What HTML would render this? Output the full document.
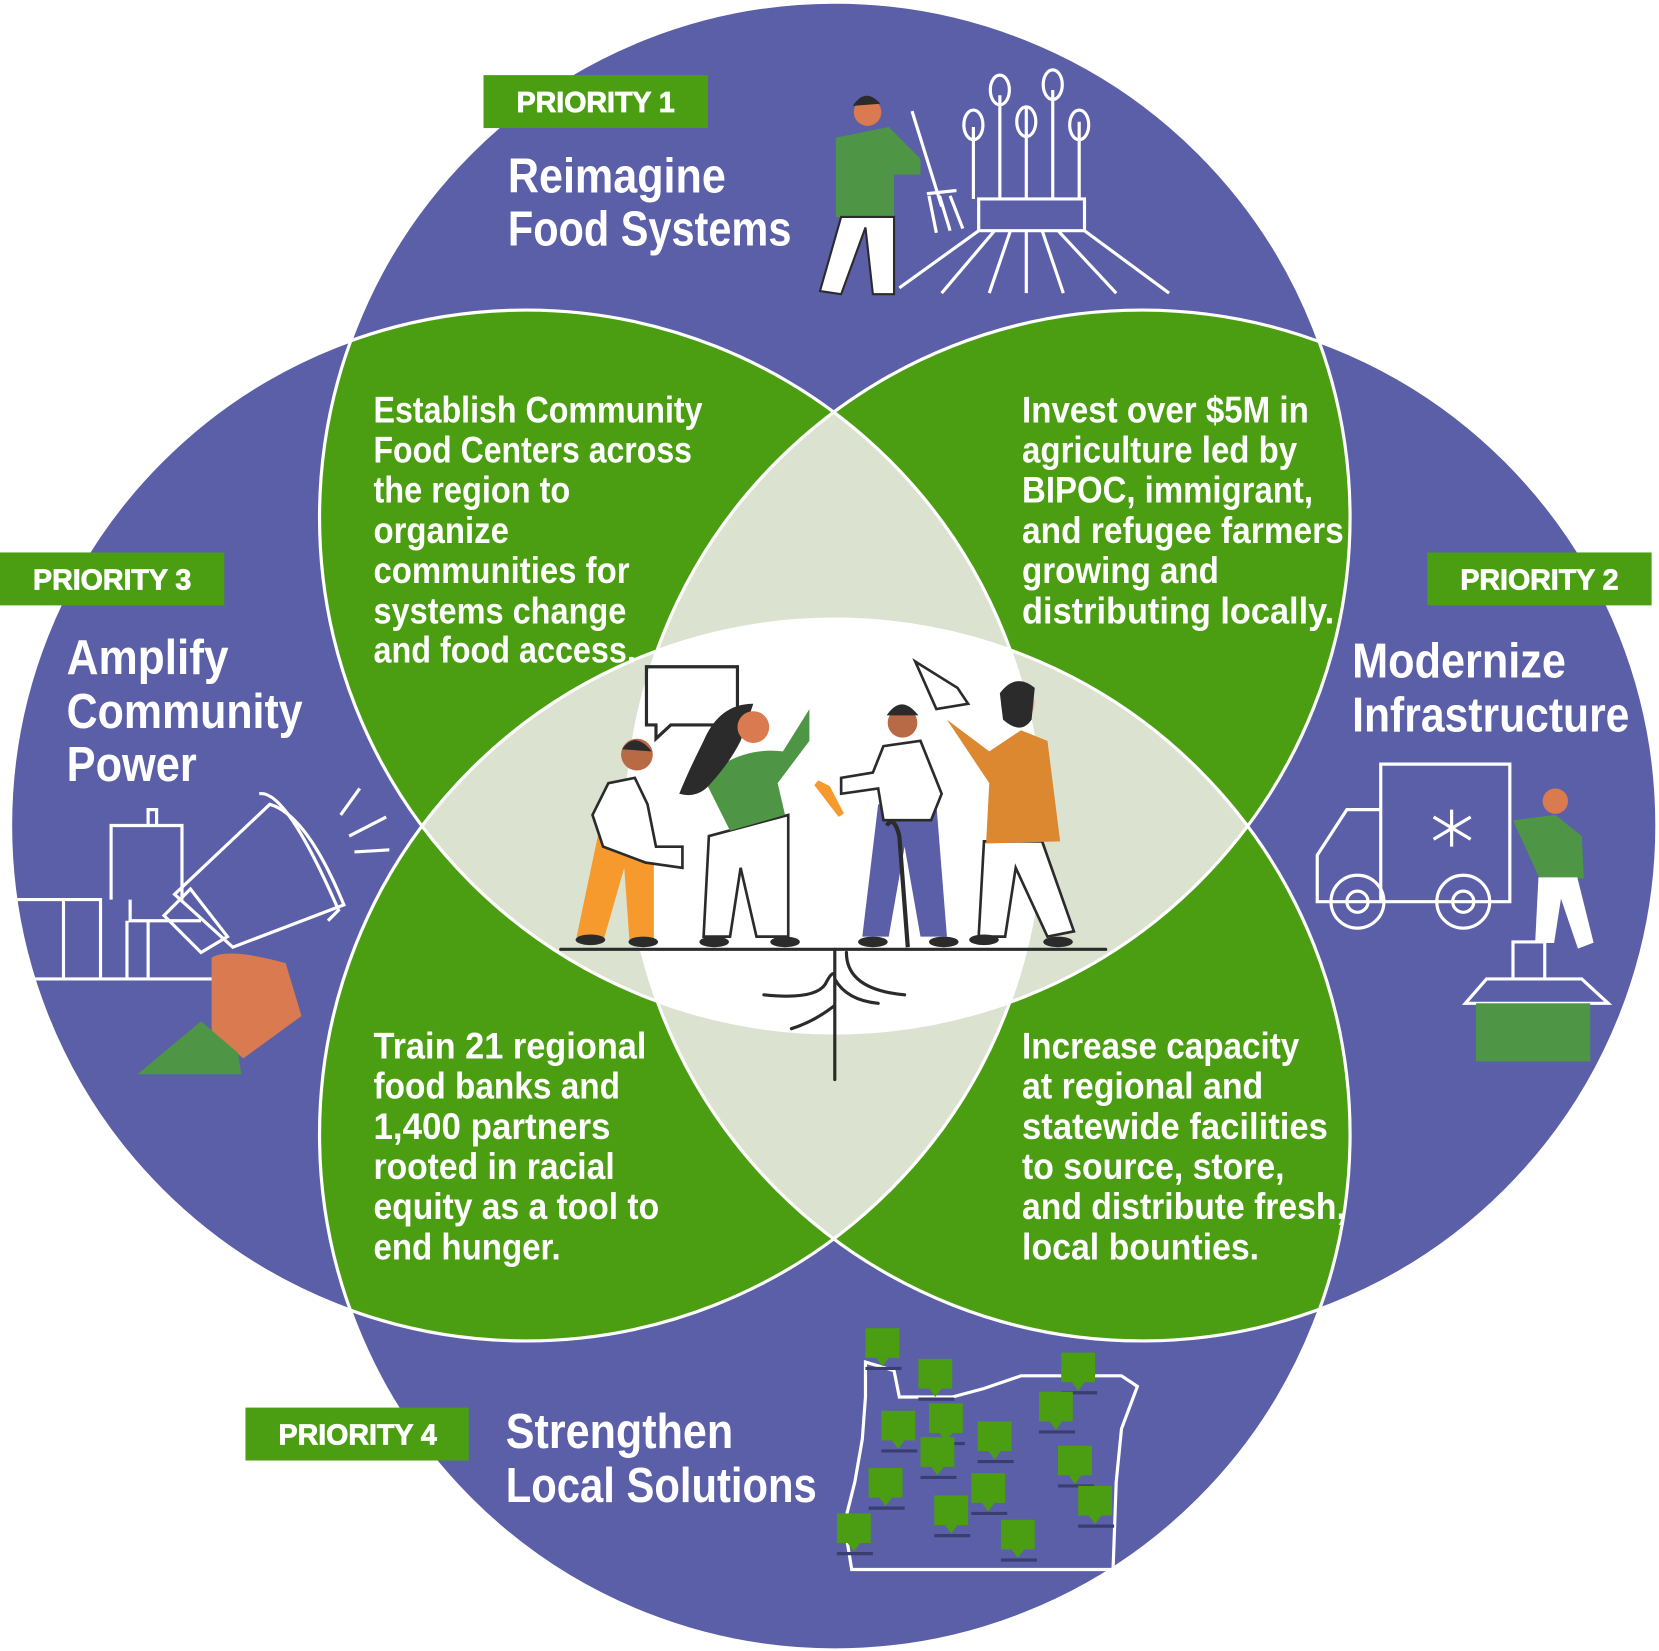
<!DOCTYPE html>
<html><head><meta charset="utf-8"><style>
html,body{margin:0;padding:0;background:#fff;}
svg{display:block;}
text{font-family:"Liberation Sans Narrow","Liberation Sans",sans-serif;font-weight:bold;fill:#fff;}
</style></head><body>
<svg width="1659" height="1651" viewBox="0 0 1568 1560" preserveAspectRatio="none" xmlns="http://www.w3.org/2000/svg">
<defs>
<clipPath id="cT"><circle cx="789" cy="489" r="487"/></clipPath>
<clipPath id="cB"><circle cx="789" cy="1072" r="487"/></clipPath>
<clipPath id="cL"><circle cx="497" cy="780" r="487"/></clipPath>
<clipPath id="cR"><circle cx="1079" cy="780" r="487"/></clipPath>
<g id="pin"><rect x="0" y="0" width="32" height="28" fill="#4b9e12"/><path d="M10 28 L16 36 L22 28 Z" fill="#4b9e12"/><line x1="0" y1="38" x2="34" y2="38" stroke="#3a3d70" stroke-width="3"/></g>
</defs>
<rect width="1568" height="1560" fill="#fff"/>
<g fill="#5a5fa8">
<circle cx="789" cy="489" r="487"/><circle cx="789" cy="1072" r="487"/>
<circle cx="497" cy="780" r="487"/><circle cx="1079" cy="780" r="487"/>
</g>
<g fill="#4b9e12">
<g clip-path="url(#cT)"><circle cx="497" cy="780" r="487"/><circle cx="1079" cy="780" r="487"/></g>
<g clip-path="url(#cB)"><circle cx="497" cy="780" r="487"/><circle cx="1079" cy="780" r="487"/></g>
</g>
<g fill="#dbe3d0">
<g clip-path="url(#cT)"><circle cx="789" cy="1072" r="487"/></g>
<g clip-path="url(#cL)"><circle cx="1079" cy="780" r="487"/></g>
</g>
<g clip-path="url(#cT)"><g clip-path="url(#cB)"><g clip-path="url(#cL)"><rect x="0" y="0" width="1568" height="1560" fill="#fff" clip-path="url(#cR)"/></g></g></g>
<g fill="none" stroke="#fff" stroke-width="3">
<circle cx="789" cy="489" r="487"/><circle cx="789" cy="1072" r="487"/>
<circle cx="497" cy="780" r="487"/><circle cx="1079" cy="780" r="487"/>
</g>

<g fill="#4b9e12">
<rect x="457" y="71" width="212" height="50"/>
<rect x="0" y="522" width="212" height="50"/>
<rect x="1349" y="522" width="212" height="50"/>
<rect x="232" y="1330" width="211" height="50"/>
</g>
<g font-size="27" text-anchor="middle" style="font-family:'Liberation Sans',sans-serif" stroke="#fff" stroke-width="0.8">
<text x="563" y="106">PRIORITY 1</text>
<text x="106" y="557">PRIORITY 3</text>
<text x="1455" y="557">PRIORITY 2</text>
<text x="338" y="1365">PRIORITY 4</text>
</g>

<g font-size="46">
<text x="480" y="182" textLength="206" lengthAdjust="spacingAndGlyphs">Reimagine</text>
<text x="480" y="232" textLength="268" lengthAdjust="spacingAndGlyphs">Food Systems</text>
<text x="63" y="637" textLength="153" lengthAdjust="spacingAndGlyphs">Amplify</text>
<text x="63" y="688" textLength="223" lengthAdjust="spacingAndGlyphs">Community</text>
<text x="63" y="738" textLength="123" lengthAdjust="spacingAndGlyphs">Power</text>
<text x="1278" y="640" textLength="202" lengthAdjust="spacingAndGlyphs">Modernize</text>
<text x="1278" y="691" textLength="262" lengthAdjust="spacingAndGlyphs">Infrastructure</text>
<text x="478" y="1368" textLength="215" lengthAdjust="spacingAndGlyphs">Strengthen</text>
<text x="478" y="1419" textLength="294" lengthAdjust="spacingAndGlyphs">Local Solutions</text>
</g>

<g font-size="35">
<text x="353" y="399" textLength="311" lengthAdjust="spacingAndGlyphs">Establish Community</text>
<text x="353" y="437" textLength="301" lengthAdjust="spacingAndGlyphs">Food Centers across</text>
<text x="353" y="475" textLength="186" lengthAdjust="spacingAndGlyphs">the region to</text>
<text x="353" y="513" textLength="128" lengthAdjust="spacingAndGlyphs">organize</text>
<text x="353" y="551" textLength="242" lengthAdjust="spacingAndGlyphs">communities for</text>
<text x="353" y="589" textLength="239" lengthAdjust="spacingAndGlyphs">systems change</text>
<text x="353" y="626" textLength="248" lengthAdjust="spacingAndGlyphs">and food access.</text>

<text x="966" y="399" textLength="271" lengthAdjust="spacingAndGlyphs">Invest over $5M in</text>
<text x="966" y="437" textLength="260" lengthAdjust="spacingAndGlyphs">agriculture led by</text>
<text x="966" y="475" textLength="275" lengthAdjust="spacingAndGlyphs">BIPOC, immigrant,</text>
<text x="966" y="513" textLength="304" lengthAdjust="spacingAndGlyphs">and refugee farmers</text>
<text x="966" y="551" textLength="186" lengthAdjust="spacingAndGlyphs">growing and</text>
<text x="966" y="589" textLength="295" lengthAdjust="spacingAndGlyphs">distributing locally.</text>

<text x="353" y="1000" textLength="258" lengthAdjust="spacingAndGlyphs">Train 21 regional</text>
<text x="353" y="1038" textLength="233" lengthAdjust="spacingAndGlyphs">food banks and</text>
<text x="353" y="1076" textLength="224" lengthAdjust="spacingAndGlyphs">1,400 partners</text>
<text x="353" y="1114" textLength="228" lengthAdjust="spacingAndGlyphs">rooted in racial</text>
<text x="353" y="1152" textLength="270" lengthAdjust="spacingAndGlyphs">equity as a tool to</text>
<text x="353" y="1190" textLength="177" lengthAdjust="spacingAndGlyphs">end hunger.</text>

<text x="966" y="1000" textLength="262" lengthAdjust="spacingAndGlyphs">Increase capacity</text>
<text x="966" y="1038" textLength="228" lengthAdjust="spacingAndGlyphs">at regional and</text>
<text x="966" y="1076" textLength="289" lengthAdjust="spacingAndGlyphs">statewide facilities</text>
<text x="966" y="1114" textLength="248" lengthAdjust="spacingAndGlyphs">to source, store,</text>
<text x="966" y="1152" textLength="306" lengthAdjust="spacingAndGlyphs">and distribute fresh,</text>
<text x="966" y="1190" textLength="224" lengthAdjust="spacingAndGlyphs">local bounties.</text>
</g>

<g stroke="#2b2b2b" stroke-width="3" fill="none" stroke-linecap="round">
<line x1="530" y1="897" x2="1045" y2="897"/>
<path d="M789 897 V1020 M789 930 Q790 910 780 930 Q770 945 722 940 M800 900 Q800 935 855 940 M789 950 Q770 965 748 972 M789 925 Q800 945 830 948"/>
<path d="M697 695 V630 H611 V685 H620 V698 L634 685 H680"/>
</g>
<path d="M565 790 L545 885 L570 890 L590 820 L595 890 L618 890 L618 790 Z" fill="#f79a2e"/>
<path d="M575 740 L600 735 L612 760 L620 800 H645 L645 820 L610 815 L570 800 L560 770 Z" fill="#fff" stroke="#2b2b2b" stroke-width="2.5"/>
<circle cx="602" cy="713" r="15" fill="#b86a45"/>
<path d="M588 708 Q600 690 616 710 Z" fill="#2b2b2b"/>
<path d="M670 790 L665 885 L690 885 L700 820 L715 885 L745 885 L745 770 Z" fill="#fff" stroke="#2b2b2b" stroke-width="2.5"/>
<path d="M665 735 Q700 705 740 710 L765 670 L765 700 L735 740 L742 770 L690 785 Z" fill="#4e9645"/>
<path d="M712 665 Q680 665 665 700 Q650 730 642 750 Q660 755 672 740 Q690 720 700 700 Z" fill="#2b2b2b"/>
<circle cx="712" cy="687" r="15" fill="#d97a50"/>
<path d="M830 760 L815 885 L840 885 L855 800 L870 885 L895 885 L885 760 Z" fill="#5a5fa8"/>
<path d="M835 705 L870 700 L890 750 L880 775 L835 775 L830 745 L795 750 L795 735 L825 730 Z" fill="#fff" stroke="#2b2b2b" stroke-width="2.5"/>
<circle cx="853" cy="683" r="14" fill="#b86a45"/>
<path d="M838 676 Q852 655 868 676 Z" fill="#2b2b2b"/>
<path d="M772 740 L795 770 L782 745 Z" fill="#f79a2e" stroke="#f79a2e" stroke-width="6"/>
<path d="M838 780 Q845 770 850 790 L858 895" stroke="#2b2b2b" stroke-width="4" fill="none"/>
<path d="M930 795 L925 885 L950 885 L960 820 L990 885 L1015 880 L985 795 Z" fill="#fff" stroke="#2b2b2b" stroke-width="2.5"/>
<path d="M895 680 L935 710 L965 690 L990 700 L1002 795 L932 797 L935 740 Z" fill="#dc8830"/>
<circle cx="962" cy="665" r="16" fill="#f6b38f"/>
<path d="M948 680 Q965 695 975 680 L978 650 Q960 635 945 655 Z" fill="#2b2b2b"/>
<path d="M865 625 L905 650 L915 665 L885 670 Z" fill="#fff" stroke="#2b2b2b" stroke-width="2.5"/>
<g fill="#2b2b2b"><ellipse cx="558" cy="888" rx="14" ry="5"/><ellipse cx="608" cy="890" rx="14" ry="5"/><ellipse cx="675" cy="890" rx="14" ry="5"/><ellipse cx="742" cy="890" rx="14" ry="5"/><ellipse cx="825" cy="890" rx="14" ry="5"/><ellipse cx="892" cy="890" rx="14" ry="5"/><ellipse cx="930" cy="888" rx="14" ry="5"/><ellipse cx="1000" cy="890" rx="14" ry="5"/></g>

<g>
<path d="M790 130 L840 120 L870 150 L870 165 L845 165 L845 205 L790 205 Z" fill="#4e9645"/>
<circle cx="820" cy="106" r="13" fill="#d97a50"/>
<path d="M806 100 Q818 82 832 98 Z" fill="#2b2b2b"/>
<path d="M795 205 L775 275 L795 278 L818 215 L825 278 L845 278 L845 205 Z" fill="#fff" stroke="#2b2b2b" stroke-width="2"/>
<g stroke="#fff" stroke-width="3" fill="none">
<path d="M862 105 L890 195 M878 185 L885 220 M888 185 L898 218 M898 185 L910 216 M876 183 L904 180"/>
<path d="M850 272 L925 218 H1025 L1105 277 M970 218 V277 M940 218 L890 277 M955 218 L935 277 M985 218 L1005 277 M1000 218 L1055 277 M925 218 V188 H1025 V218"/>
<path d="M945 188 V90 M970 188 V100 M995 188 V85 M920 188 V120 M1020 188 V115"/>
<ellipse cx="945" cy="85" rx="9" ry="14"/><ellipse cx="995" cy="80" rx="9" ry="14"/>
<ellipse cx="970" cy="115" rx="9" ry="14"/><ellipse cx="920" cy="118" rx="9" ry="14"/><ellipse cx="1020" cy="118" rx="9" ry="14"/>
</g>
</g>

<g stroke="#fff" stroke-width="3" fill="none">
<path d="M15 850 H95 V925 H15 M60 850 V925 M95 925 H210 M105 850 V780 H172 V850 M120 870 V925 M140 870 V925 M123 850 V870 H190"/>
<path d="M140 780 V765 H148 V780"/>
<path d="M165 845 L255 760 Q290 770 325 855 L220 895 Z"/>
<path d="M245 750 Q270 745 320 860 L310 870"/>
<path d="M155 865 L190 900 L215 885 L180 840 Z"/>
<path d="M322 770 L340 745 M330 790 L365 772 M335 805 L368 803"/>
</g>
<path d="M200 905 Q215 895 270 910 L285 960 L230 1000 L200 975 Z" fill="#d97a50"/>
<path d="M130 1015 L190 965 L225 995 L228 1015 Z" fill="#4e9645"/>

<g stroke="#fff" stroke-width="3" fill="none">
<path d="M1305 722 H1427 V852 H1245 V808 L1273 765 H1305 Z M1305 765 V852"/>
<circle cx="1283" cy="852" r="25"/><circle cx="1283" cy="852" r="10"/>
<circle cx="1383" cy="852" r="25"/><circle cx="1383" cy="852" r="10"/>
<path d="M1372 765 V800 M1355 772 L1390 793 M1390 772 L1355 793"/>
<path d="M1385 948 L1405 925 H1495 L1520 948 Z M1430 890 V925 H1460 V890 Z"/>
</g>
<path d="M1430 775 L1470 770 L1495 790 L1497 830 L1455 830 Z" fill="#4e9645"/>
<circle cx="1470" cy="757" r="12" fill="#d97a50"/>
<path d="M1455 830 L1452 890 L1468 890 L1475 845 L1492 895 L1505 890 L1490 830 Z" fill="#fff" stroke="#fff" stroke-width="2"/>
<rect x="1395" y="948" width="108" height="55" fill="#4e9645"/>

<path d="M818 1287 L845 1295 L850 1320 L900 1320 L930 1312 L965 1300 L1060 1300 L1075 1310 L1060 1350 L1055 1400 L1052 1483 H805 L798 1440 L808 1400 L815 1360 L818 1320 Z" fill="none" stroke="#fff" stroke-width="3"/>
<use href="#pin" x="818" y="1255"/><use href="#pin" x="868" y="1284"/>
<use href="#pin" x="1003" y="1278"/><use href="#pin" x="833" y="1333"/>
<use href="#pin" x="878" y="1326"/><use href="#pin" x="982" y="1315"/>
<use href="#pin" x="924" y="1343"/><use href="#pin" x="870" y="1358"/>
<use href="#pin" x="1000" y="1366"/><use href="#pin" x="821" y="1387"/>
<use href="#pin" x="918" y="1392"/><use href="#pin" x="1019" y="1404"/>
<use href="#pin" x="883" y="1413"/><use href="#pin" x="791" y="1430"/>
<use href="#pin" x="946" y="1436"/>
</svg>
</body></html>
